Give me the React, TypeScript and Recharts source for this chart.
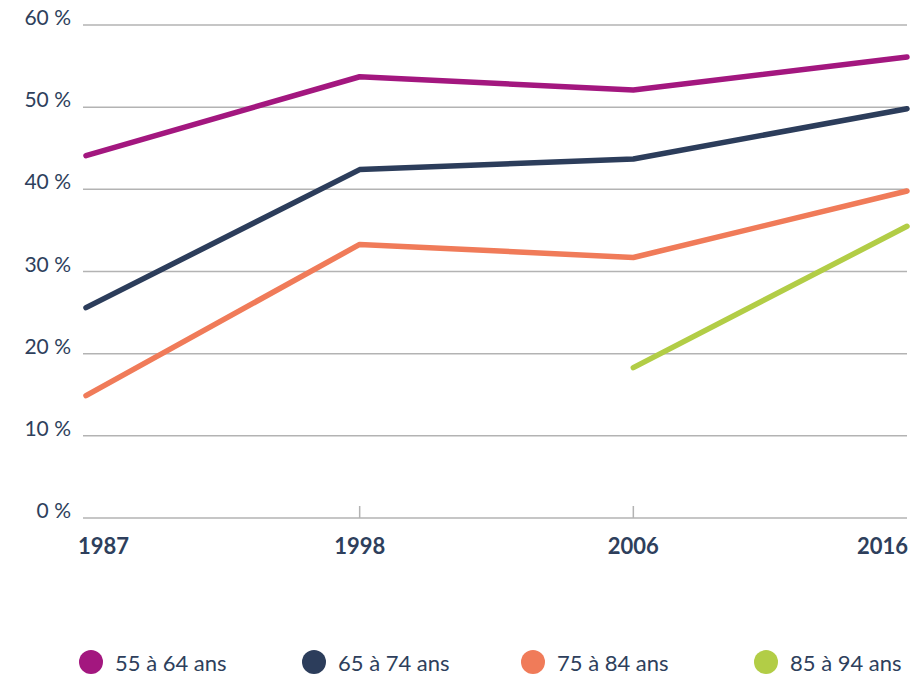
import React from "react"
import { LineChart, Line, XAxis, YAxis, CartesianGrid } from "recharts"

const years = ["1987", "1998", "2006", "2016"]
const age55to64 = [44.1, 53.7, 52.1, 56.1]
const age65to74 = [25.6, 42.4, 43.7, 49.8]
const age75to84 = [14.9, 33.3, 31.7, 39.8]
const age85to94 = [null, null, 18.3, 35.5]
const yTicks = [0, 10, 20, 30, 40, 50, 60]

const series = [
  { key: "a", name: "55 à 64 ans", color: "#a3177f", values: age55to64 },
  { key: "b", name: "65 à 74 ans", color: "#2c3d5b", values: age65to74 },
  { key: "c", name: "75 à 84 ans", color: "#f07b59", values: age75to84 },
  { key: "d", name: "85 à 94 ans", color: "#b2cd46", values: age85to94 },
]

const data = years.map((year, i) => {
  const row: Record<string, string | number | null> = { year }
  series.forEach((s) => {
    row[s.key] = s.values[i]
  })
  return row
})

const textColor = "#2e3f5c"
const font = "Lato, 'Open Sans', sans-serif"

function XTick(props: any) {
  const { x, y, payload, index } = props
  const last = index === years.length - 1
  const first = index === 0
  const anchor = first ? "start" : last ? "end" : "middle"
  const dx = first ? -8 : last ? 1 : 0
  return (
    <g>
      {!first && !last && <line x1={x} x2={x} y1={y - 12} y2={y} stroke="#b3b3b3" strokeWidth={1.5} />}
      <text
        x={x + dx}
        y={y + 36}
        textAnchor={anchor}
        fill={textColor}
        fontSize={22}
        fontWeight={700}
        fontFamily={font}
      >
        {payload.value}
      </text>
    </g>
  )
}

function YTick(props: any) {
  const { x, y, payload } = props
  return (
    <text x={x} y={y} textAnchor="end" fill={textColor} fontSize={21} fontFamily={font}>
      {payload.value} %
    </text>
  )
}

export default function App() {
  return (
    <div style={{ position: "relative", width: 922, height: 674, background: "#fff" }}>
      <style>{`body{margin:0}`}</style>
      <LineChart width={922} height={600} data={data} margin={{ top: 25, right: 15, left: 0, bottom: 42 }}>
        <CartesianGrid vertical={false} stroke="#b3b3b3" strokeWidth={1.5} />
        <XAxis
          dataKey="year"
          axisLine={false}
          tickLine={false}
          tick={<XTick />}
          tickSize={0}
          tickMargin={0}
          height={40}
          interval={0}
          padding={{ left: 3, right: 0 }}
        />
        <YAxis
          domain={[0, 60]}
          ticks={yTicks}
          axisLine={false}
          tickLine={false}
          tickSize={0}
          tickMargin={12}
          width={83}
          tick={<YTick />}
        />
        {series.map((s) => (
          <Line
            key={s.key}
            type="linear"
            dataKey={s.key}
            name={s.name}
            stroke={s.color}
            strokeWidth={5.5}
            strokeLinecap="round"
            strokeLinejoin="round"
            dot={false}
            activeDot={false}
            connectNulls={false}
            isAnimationActive={false}
          />
        ))}
      </LineChart>
      <div style={{ position: "absolute", left: 0, top: 649, width: 922, height: 26 }}>
        {series.map((s, i) => (
          <div
            key={s.key}
            style={{
              position: "absolute",
              left: [79, 302, 521, 754][i],
              top: 0,
              height: 26,
              display: "flex",
              alignItems: "center",
              fontFamily: font,
              fontSize: 22,
              color: textColor,
              whiteSpace: "nowrap",
            }}
          >
            <span
              style={{
                display: "inline-block",
                width: 24,
                height: 24,
                borderRadius: "50%",
                background: s.color,
                marginRight: 12,
              }}
            />
            {s.name}
          </div>
        ))}
      </div>
    </div>
  )
}
